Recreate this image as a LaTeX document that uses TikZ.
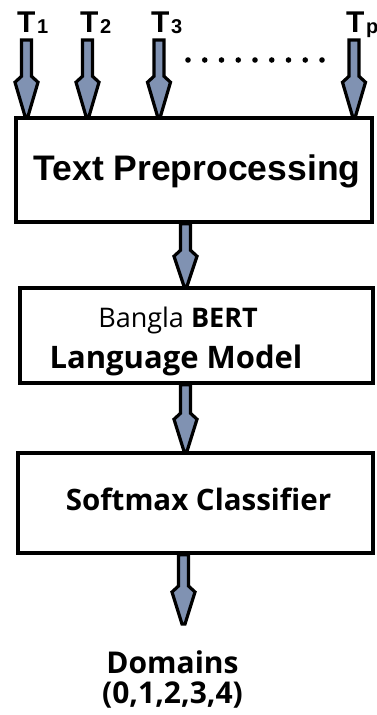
\documentclass[tikz,border=0pt]{standalone}
\usepackage{fontspec}
\setmainfont{Liberation Sans}
\newfontfamily\osfont{Open Sans}
\usetikzlibrary{calc}
\definecolor{arrowfill}{RGB}{128,146,178}
\tikzset{
  box/.style={draw=black, line width=3.5pt, fill=white, inner sep=0pt},
  barrowstyle/.style={fill=arrowfill, draw=black, line width=3.2pt, line join=miter},
  lbl/.style={inner sep=0pt, anchor=base},
  dotstyle/.style={fill=black},
}
\newcommand{\blockarrow}[3]{%
  \filldraw[barrowstyle] let \p1=(#1), \p2=(#2) in
  ({\x1-5pt},\y1) -- ({\x1-5pt},{\y2+#3}) -- ({\x1-11.5pt},{\y2+#3-6pt}) -- ({\x1-1.5pt},\y2)
  -- ({\x1+1.5pt},\y2) -- ({\x1+11.5pt},{\y2+#3-6pt}) -- ({\x1+5pt},{\y2+#3}) -- ({\x1+5pt},\y1) -- cycle;}
\newcommand{\tlab}[1]{{\fontsize{30}{30}\selectfont\bfseries T}\hspace{1.5pt}\raisebox{-1.5pt}{\fontsize{20}{20}\selectfont\bfseries #1}}
\begin{document}
\begin{tikzpicture}[x=1pt,y=-1pt]
\fill[white] (0,0) rectangle (377,715);
\useasboundingbox (0,0) rectangle (377,715);
\begin{scope}
\clip (0,0) rectangle (377,715);
% input labels
\node[lbl, anchor=base west] (t1) at (17,32) {\tlab{1}};
\node[lbl, anchor=base west] (t2) at (80,32) {\tlab{2}};
\node[lbl, anchor=base west] (t3) at (151,32) {\tlab{3}};
\node[lbl, anchor=base west] (tp) at (346,32) {\tlab{p}};
\end{scope}
% dots
\foreach \i in {0,...,8} {\fill[dotstyle] (188+\i*16.75,60) circle (2.8);}
% boxes
\node[box, minimum width=356pt, minimum height=104pt] (pre) at (194,170) {};
\node[box, minimum width=353pt, minimum height=95pt] (bert) at (196.5,335.5) {};
\node[box, minimum width=355pt, minimum height=100pt] (soft) at (195.5,503) {};
% box texts
\node[lbl] (pretext) at (197,180) {\fontsize{35.5}{36}\selectfont\bfseries Text Preprocessing};
\node[lbl] (berttext1) at (178,327) {\osfont\fontsize{27}{28}\selectfont Bangla \bfseries BERT};
\node[lbl] (berttext2) at (176,368) {\osfont\fontsize{31}{32}\selectfont\bfseries Language Model};
\node[lbl] (softtext) at (198.5,510) {\osfont\fontsize{29.5}{30}\selectfont\bfseries Softmax Classifier};
\node[lbl] (dom) at (172.5,673) {\osfont\fontsize{30}{30}\selectfont\bfseries Domains};
\node[lbl] (dig) at (172.5,703) {\osfont\fontsize{30}{30}\selectfont\bfseries (0,1,2,3,4)};
% arrow positions
\coordinate (a1) at (26.5,40);
\coordinate (a2) at (87.5,40);
\coordinate (a3) at (159,40);
\coordinate (ap) at (354,40);
\coordinate (x1) at (185.5,0);
\coordinate (x2) at (185.5,0);
\coordinate (x3) at (183.5,0);
\blockarrow{a1}{a1 |- pre.north}{40}
\blockarrow{a2}{a2 |- pre.north}{40}
\blockarrow{a3}{a3 |- pre.north}{40}
\blockarrow{ap}{ap |- pre.north}{40}
\blockarrow{pre.south -| x1}{bert.north -| x1}{36}
\blockarrow{bert.south -| x2}{soft.north -| x2}{38}
\coordinate (dtop) at ($(dom.north -| x3)+(0,-26)$);
\blockarrow{soft.south -| x3}{dtop}{38}
\end{tikzpicture}
\end{document}
